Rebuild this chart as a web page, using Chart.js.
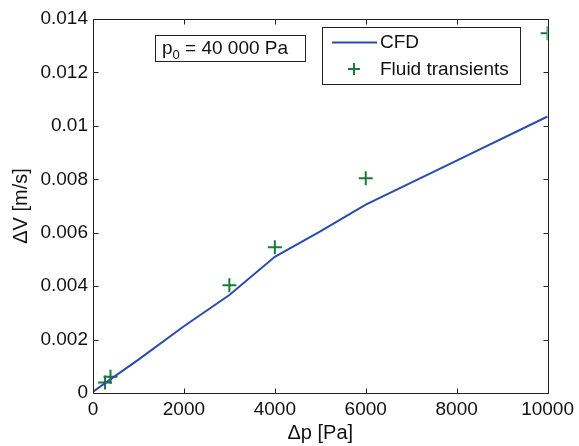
<!DOCTYPE html>
<html>
<head>
<meta charset="utf-8">
<script src="https://cdn.jsdelivr.net/npm/chart.js@4.4.1/dist/chart.umd.min.js"></script>
<style>
html, body { margin: 0; padding: 0; background: #fff; }
</style>
</head>
<body>
<canvas id="chart" width="579" height="446"></canvas>
<script>
// CFD curve
const cfdP = [0, 500, 1000, 2000, 3000, 4000, 5000, 6000, 8000, 10000]
const cfdV = [0.00005, 0.00065, 0.00125, 0.0025, 0.00367, 0.0051, 0.00605, 0.00705, 0.0087, 0.01035]
// fluid transients markers
const ftP = [265, 385, 3000, 4000, 6000, 10000]
const ftV = [0.00039, 0.00061, 0.00403, 0.00546, 0.00804, 0.01347]

const xTicks = [0, 2000, 4000, 6000, 8000, 10000]
const yTicks = [0, 0.002, 0.004, 0.006, 0.008, 0.01, 0.012, 0.014]
const yTickLabels = ['0', '0.002', '0.004', '0.006', '0.008', '0.01', '0.012', '0.014']

const seriesNames = ['CFD', 'Fluid transients']
const note = { base: 'p', sub: '0', rest: ' = 40 000 Pa' }

const FONT = '"Liberation Sans", Arial, Helvetica, sans-serif'
const TXT = '#111'
const BLUE = '#2b4ca8'
const GREEN = '#1b7a3a'

const toXY = (xs, ys) => xs.map((x, i) => ({ x: x, y: ys[i] }))

// box, inward ticks, legend and the p0 note
const decorations = {
    id: 'decorations',
    afterDraw(chart) {
        const { ctx, chartArea: a, scales: { x, y } } = chart
        const L = Math.round(a.left) + 0.5, R = Math.round(a.right) + 0.5
        const T = Math.round(a.top) + 0.5, B = Math.round(a.bottom) + 0.5
        ctx.save()
        ctx.strokeStyle = '#222'
        ctx.lineWidth = 1
        ctx.beginPath()
        ctx.rect(L, T, R - L, B - T)
        xTicks.forEach(v => {
            const px = Math.round(x.getPixelForValue(v)) + 0.5
            ctx.moveTo(px, B); ctx.lineTo(px, B - 5)
            ctx.moveTo(px, T); ctx.lineTo(px, T + 5)
        })
        yTicks.forEach(v => {
            const py = Math.round(y.getPixelForValue(v)) + 0.5
            ctx.moveTo(L, py); ctx.lineTo(L + 5, py)
            ctx.moveTo(R, py); ctx.lineTo(R - 5, py)
        })
        ctx.stroke()

        // p0 note
        ctx.fillStyle = '#fff'
        ctx.fillRect(155.5, 35.5, 150, 26)
        ctx.strokeRect(155.5, 35.5, 150, 26)
        ctx.fillStyle = TXT
        ctx.textBaseline = 'alphabetic'
        ctx.textAlign = 'left'
        ctx.font = '19px ' + FONT
        let tx = 162
        ctx.fillText(note.base, tx, 54)
        tx += ctx.measureText(note.base).width
        ctx.font = '13px ' + FONT
        ctx.fillText(note.sub, tx, 59)
        tx += ctx.measureText(note.sub).width
        ctx.font = '19px ' + FONT
        ctx.fillText(note.rest, tx, 54)

        // legend
        ctx.fillStyle = '#fff'
        ctx.fillRect(322.5, 27.5, 198, 57)
        ctx.strokeRect(322.5, 27.5, 198, 57)
        ctx.strokeStyle = BLUE
        ctx.lineWidth = 2
        ctx.beginPath()
        ctx.moveTo(332, 42.5); ctx.lineTo(377, 42.5)
        ctx.stroke()
        ctx.strokeStyle = GREEN
        ctx.beginPath()
        ctx.moveTo(348, 69); ctx.lineTo(360, 69)
        ctx.moveTo(354, 63); ctx.lineTo(354, 75)
        ctx.stroke()
        ctx.fillStyle = TXT
        ctx.font = '19px ' + FONT
        ctx.textBaseline = 'middle'
        ctx.fillText(seriesNames[0], 380, 43)
        ctx.fillText(seriesNames[1], 380, 70)
        ctx.restore()
    }
}

const config = {
    type: 'scatter',
    data: {
        datasets: [{
            label: seriesNames[0],
            data: toXY(cfdP, cfdV),
            showLine: true,
            borderColor: BLUE,
            borderWidth: 2,
            pointRadius: 0,
            tension: 0
        }, {
            label: seriesNames[1],
            data: toXY(ftP, ftV),
            showLine: false,
            pointStyle: 'cross',
            pointRadius: 7,
            borderColor: GREEN,
            backgroundColor: GREEN,
            pointBorderWidth: 2
        }]
    },
    options: {
        responsive: false,
        animation: false,
        layout: { padding: { top: 19, right: 29, left: 0, bottom: 0 } },
        plugins: {
            legend: { display: false },
            tooltip: { enabled: false }
        },
        scales: {
            x: {
                type: 'linear',
                min: 0,
                max: 10000,
                afterFit: s => { s.height = 53 },
                afterBuildTicks: s => { s.ticks = xTicks.map(v => ({ value: v })) },
                grid: { display: false, drawTicks: false },
                border: { display: false },
                ticks: {
                    color: TXT,
                    padding: 5,
                    maxRotation: 0,
                    font: { family: FONT, size: 19 },
                    callback: v => String(v)
                },
                title: {
                    display: true,
                    text: '\u0394p [Pa]',
                    color: TXT,
                    font: { family: FONT, size: 20, lineHeight: 1.2 },
                    padding: { top: 0, bottom: 1 }
                }
            },
            y: {
                type: 'linear',
                min: 0,
                max: 0.014,
                afterFit: s => { s.width = 93 },
                afterBuildTicks: s => { s.ticks = yTicks.map(v => ({ value: v })) },
                grid: { display: false, drawTicks: false },
                border: { display: false },
                ticks: {
                    color: TXT,
                    padding: 5,
                    font: { family: FONT, size: 19 },
                    callback: (v, i) => yTickLabels[i]
                },
                title: {
                    display: true,
                    text: '\u0394V [m/s]',
                    color: TXT,
                    font: { family: FONT, size: 20, lineHeight: 1.2 },
                    padding: { top: 9, bottom: 0 }
                }
            }
        }
    },
    plugins: [decorations]
}

const mychart = new Chart(document.getElementById('chart'), config)
</script>
</body>
</html>
